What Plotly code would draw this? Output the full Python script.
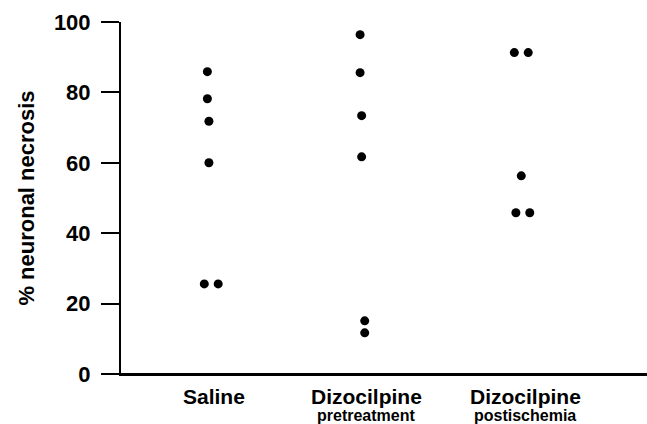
import plotly.graph_objects as go

# Data
groups = ["Saline", "Dizocilpine", "Dizocilpine"]
group_sub = ["", "pretreatment", "postischemia"]

saline_vals = [85.9, 78.2, 71.8, 60.0, 25.6, 25.6]
saline_off = [-0.03, -0.03, -0.02, -0.02, -0.05, 0.04]

pre_vals = [96.4, 85.6, 73.4, 61.7, 15.1, 11.7]
pre_off = [-0.04, -0.04, -0.03, -0.03, -0.01, -0.01]

post_vals = [91.3, 91.3, 56.3, 45.8, 45.8]
post_off = [-0.04, 0.05, 0.005, -0.03, 0.06]

y_ticks = [0, 20, 40, 60, 80, 100]

FONT = "Liberation Sans, Arial, Helvetica, sans-serif"

fig = go.Figure()
for gi, (vals, offs) in enumerate([(saline_vals, saline_off), (pre_vals, pre_off), (post_vals, post_off)]):
    fig.add_trace(go.Scatter(
        x=[gi + o for o in offs], y=vals, mode="markers",
        marker=dict(color="black", size=9, line=dict(width=0)),
        showlegend=False, hoverinfo="y"))

label_x = [0.01, 1.0, 2.03]
for i, name in enumerate(groups):
    fig.add_annotation(x=label_x[i], y=0, xref="x", yref="y", text="<b>%s</b>" % name,
                       showarrow=False, yanchor="middle", yshift=-22, borderpad=0,
                       font=dict(family=FONT, size=21, color="black"))
    if group_sub[i]:
        fig.add_annotation(x=label_x[i], y=0, xref="x", yref="y", text="<b>%s</b>" % group_sub[i],
                           showarrow=False, yanchor="middle", yshift=-41, borderpad=0,
                           font=dict(family=FONT, size=16, color="black"))

# x-axis baseline across the full plot width
fig.add_shape(type="line", xref="paper", yref="y", x0=0, x1=1, y0=0, y1=0,
              line=dict(color="black", width=2))

fig.update_layout(
    width=647, height=424,
    margin=dict(l=121, r=0, t=22, b=50, autoexpand=False),
    paper_bgcolor="white", plot_bgcolor="white",
    font=dict(family=FONT, color="black"),
    xaxis=dict(range=[-0.59, 2.82], showline=True, linewidth=2, linecolor="black",
               showgrid=False, zeroline=False, showticklabels=False, ticks=""),
    yaxis=dict(range=[0, 100], tickvals=y_ticks, ticktext=["<b>%d</b>" % v for v in y_ticks],
               showline=True, linewidth=2, linecolor="black", ticks="outside",
               ticklen=18, tickwidth=2, tickcolor="black", showgrid=False, zeroline=False,
               ticklabelstandoff=6,
               tickfont=dict(family=FONT, size=22, color="black"),
               title=dict(text="<b>% neuronal necrosis</b>", font=dict(family=FONT, size=22, color="black"),
                          standoff=13)),
)

fig.write_html("out.html", config={"displayModeBar": False},
               post_script="document.body.style.margin='0';document.body.style.overflow='hidden';")
